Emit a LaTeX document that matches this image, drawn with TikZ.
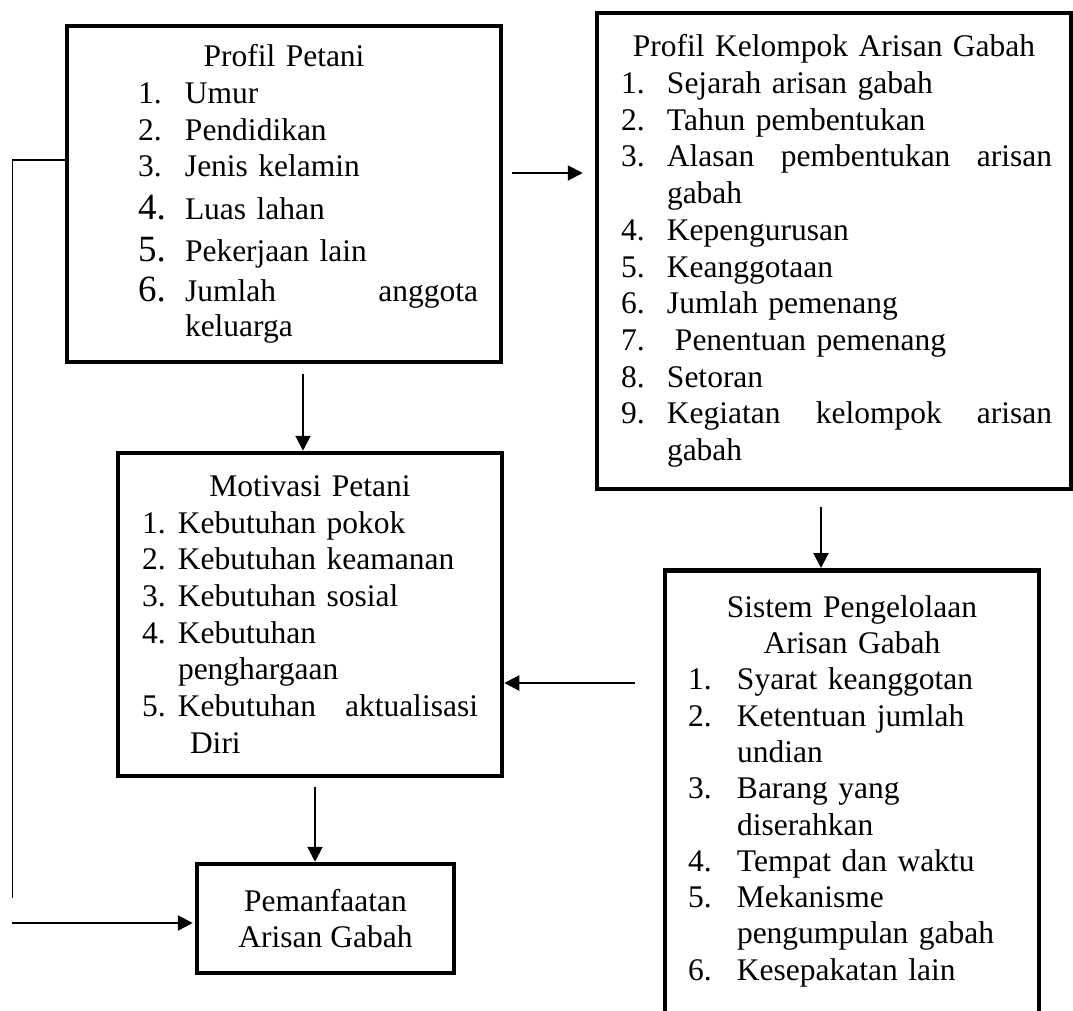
\documentclass[tikz,border=0pt]{standalone}
\usepackage{fontspec}
\setmainfont{Liberation Serif}
\usetikzlibrary{arrows.meta}

\newlength\boxind
\newlength\numwd
\newcommand{\setcols}[2]{\setlength\boxind{#1}\setlength\numwd{#2}}
\newcommand{\btitle}[1]{\makebox[\linewidth]{#1}}
\newcommand{\bitem}[2]{\hspace*{\boxind}\makebox[\numwd][l]{#1}#2}
\newcommand{\bcont}[1]{\hspace*{\boxind}\hspace*{\numwd}#1}
\newcommand{\bignum}{\fontsize{37}{36.7}\selectfont}

\begin{document}
\begin{tikzpicture}[x=1pt,y=-1pt,
    box/.style={draw,line width=4.5pt,inner sep=0pt,align=left,
      font=\fontsize{31.5}{36.7}\selectfont},
    arr/.style={line width=2pt,-{Triangle[length=15pt,width=15pt]}}
  ]
  \path[use as bounding box] (0,0) rectangle (1073,1010);
  % Boxes.
  \node[box,text width=434pt,minimum height=336pt] (petani) at (284,194) {\setcols{71pt}{47pt}%
    \btitle{Profil Petani}\\
    \bitem{1.}{Umur}\\
    \bitem{2.}{Pendidikan}\\
    \bitem{3.}{Jenis kelamin}\\[6pt]
    \bitem{\bignum 4.}{Luas lahan}\\[5pt]
    \bitem{\bignum 5.}{Pekerjaan lain}\\[4pt]
    \bitem{\bignum 6.}{\makebox[293pt][l]{Jumlah\hfill anggota}}\\[-2pt]
    \bcont{keluarga}};
  \node[box,text width=474pt,minimum height=476pt] (kelompok) at (834,251) {\setcols{24pt}{46pt}%
    \btitle{Profil Kelompok Arisan Gabah}\\
    \bitem{1.}{Sejarah arisan gabah}\\
    \bitem{2.}{Tahun pembentukan}\\
    \bitem{3.}{\makebox[385pt][l]{Alasan\hfill pembentukan\hfill arisan}}\\
    \bcont{gabah}\\
    \bitem{4.}{Kepengurusan}\\
    \bitem{5.}{Keanggotaan}\\
    \bitem{6.}{Jumlah pemenang}\\
    \bitem{7.}{\hspace*{8pt}Penentuan pemenang}\\
    \bitem{8.}{Setoran}\\
    \bitem{9.}{\makebox[385pt][l]{Kegiatan\hfill kelompok\hfill arisan}}\\
    \bcont{gabah}};
  \node[box,text width=384pt,minimum height=323pt] (motivasi) at (310,614.5) {\setcols{24pt}{36pt}%
    \btitle{Motivasi Petani}\\
    \bitem{1.}{Kebutuhan pokok}\\
    \bitem{2.}{Kebutuhan keamanan}\\
    \bitem{3.}{Kebutuhan sosial}\\
    \bitem{4.}{Kebutuhan}\\
    \bcont{penghargaan}\\
    \bitem{5.}{\makebox[300pt][l]{Kebutuhan\hfill aktualisasi}}\\
    \bcont{\hspace*{12pt}Diri}};
  \node[box,text width=374pt,anchor=north,font=\fontsize{31.5}{36.3}\selectfont] (sistem) at (852,568) {\setcols{23pt}{49pt}%
    \btitle{\rule{0pt}{47pt}Sistem Pengelolaan}\\
    \btitle{Arisan Gabah}\\
    \bitem{1.}{Syarat keanggotan}\\
    \bitem{2.}{Ketentuan jumlah}\\
    \bcont{undian}\\
    \bitem{3.}{Barang yang}\\
    \bcont{diserahkan}\\
    \bitem{4.}{Tempat dan waktu}\\
    \bitem{5.}{Mekanisme}\\
    \bcont{pengumpulan gabah}\\
    \bitem{6.}{Kesepakatan lain\rule[-60pt]{0pt}{60pt}}};
  \node[box,align=center,minimum width=257pt,minimum height=109pt] (pemanfaatan) at (325.5,918.5) {Pemanfaatan\\Arisan Gabah};
  % Arrows.
  \draw[arr] ([xshift=9pt,yshift=21pt]petani.east) -- ([xshift=-12pt,yshift=78pt]kelompok.west);
  \draw[arr] ([xshift=19pt,yshift=-10pt]petani.south) -- ([xshift=-7pt]motivasi.north);
  \draw[arr] ([xshift=-13pt,yshift=-16pt]kelompok.south) -- ([xshift=-31pt]sistem.north);
  \draw[arr] ([xshift=-28pt,yshift=-115pt]sistem.north west) -- ([yshift=-68.5pt]motivasi.east);
  \draw[arr] ([xshift=5pt,yshift=-9pt]motivasi.south) -- ([xshift=-10.5pt]pemanfaatan.north);
  % Side line.
  \coordinate (lbend) at (12.5,898);
  \coordinate (lstart) at (12,923);
  \draw[line width=1.5pt] ([yshift=34pt]petani.west) -| (lbend);
  \draw[arr,line width=2.5pt,shorten >=2pt] (lstart) -- (pemanfaatan.west |- lstart);
\end{tikzpicture}
\end{document}
